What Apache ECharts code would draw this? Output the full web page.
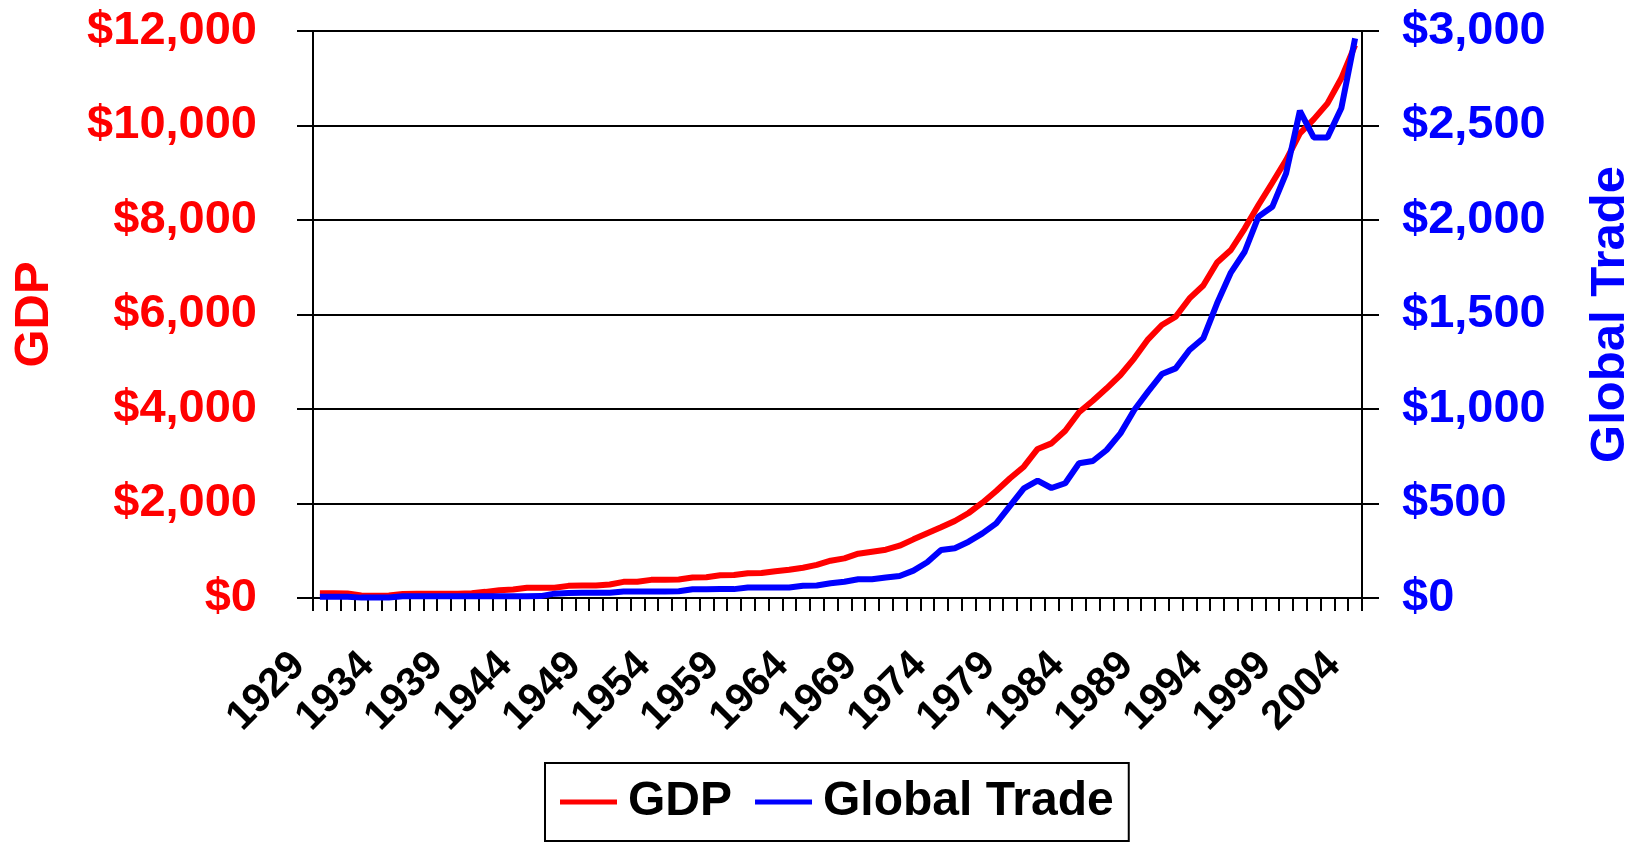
<!DOCTYPE html>
<html>
<head>
<meta charset="utf-8">
<title>GDP and Global Trade</title>
<script src="https://cdn.jsdelivr.net/npm/echarts@6/dist/echarts.min.js"></script>
<style>
  html, body { margin: 0; padding: 0; background: #ffffff; }
  #chart { width: 1642px; height: 843px; }
</style>
</head>
<body>
<div id="chart"></div>
<script>
// Years on the category axis (1929-2004)
const years = [];
for (let y = 1929; y <= 2004; y++) years.push(String(y));

// GDP, left axis ($)
const gdp = [
  102, 102, 95, 55, 50, 53, 85, 88, 88, 88,
  90, 100, 130, 166, 180, 215, 215, 218, 257, 262,
  265, 286, 342, 344, 384, 388, 390, 434, 440, 483,
  486, 525, 528, 568, 596, 640, 700, 790, 839, 938,
  980, 1022, 1107, 1241, 1369, 1496, 1630, 1799, 2017, 2264,
  2533, 2779, 3155, 3273, 3540, 3930, 4175, 4437, 4719, 5072,
  5474, 5777, 5953, 6340, 6615, 7100, 7365, 7820, 8317, 8789,
  9269, 9834, 10130, 10469, 10999, 11700
];

// Global trade, right axis ($)
const trade = [
  7, 7, 7, 2, 2, 3, 9, 9, 9, 9,
  9, 9, 9, 9, 9, 9, 10, 23, 26, 28,
  28, 28, 34, 34, 34, 35, 36, 46, 46, 47,
  47, 55, 55, 55, 56, 65, 66, 78, 86, 99,
  99, 108, 116, 145, 189, 254, 263, 298, 342, 395,
  487, 580, 621, 582, 607, 713, 725, 783, 871, 995,
  1092, 1185, 1215, 1312, 1374, 1559, 1722, 1832, 2018, 2070,
  2247, 2578, 2437, 2437, 2591, 2961
];

// Axis ranges and steps
const gdpAxis = { min: 0, max: 12000, step: 2000 };
const tradeAxis = { min: 0, max: 3000, step: 500 };

const FONT = '"Liberation Sans", Arial, Helvetica, sans-serif';
const RED = '#ff0000';
const BLUE = '#0000ff';
const money = v => '$' + Number(v).toLocaleString('en-US');

const chart = echarts.init(document.getElementById('chart'), null, { renderer: 'canvas' });

chart.setOption({
  animation: false,
  backgroundColor: '#ffffff',
  textStyle: { fontFamily: FONT },
  grid: {
    left: 313, right: 280, top: 31, bottom: 245,
    containLabel: false,
    outerBoundsMode: 'none'
  },
  legend: {
    data: ['GDP', 'Global Trade'],
    left: 545,
    top: 763,
    padding: [15, 15, 15, 15],
    itemGap: 23,
    itemWidth: 57,
    itemHeight: 5,
    icon: 'rect',
    borderColor: '#000000',
    borderWidth: 2,
    textStyle: { fontFamily: FONT, fontSize: 48, fontWeight: 'bold', color: '#000000', padding: [0, 0, 0, 6] }
  },
  xAxis: {
    type: 'category',
    data: years,
    boundaryGap: true,
    axisLine: { show: true, lineStyle: { color: '#000000', width: 2 } },
    axisTick: { show: true, interval: 0, length: 13, inside: false, lineStyle: { color: '#000000', width: 2 } },
    axisLabel: {
      interval: 4,
      rotate: 45,
      margin: 40,
      padding: [0, 30, 0, 0],
      fontFamily: FONT,
      fontSize: 41,
      fontWeight: 'bold',
      color: '#000000'
    },
    splitLine: { show: false }
  },
  yAxis: [
    {
      type: 'value',
      position: 'left',
      min: gdpAxis.min, max: gdpAxis.max, interval: gdpAxis.step,
      name: 'GDP',
      nameLocation: 'middle',
      nameRotate: 90,
      nameGap: 254,
      nameTextStyle: { fontFamily: FONT, fontSize: 49, fontWeight: 'bold', color: RED },
      axisLine: { show: true, lineStyle: { color: '#000000', width: 2 } },
      axisTick: { show: true, length: 16, lineStyle: { color: '#000000', width: 2 } },
      axisLabel: {
        margin: 56,
        fontFamily: FONT, fontSize: 47, fontWeight: 'bold', color: RED,
        formatter: money
      },
      splitLine: { show: true, lineStyle: { color: '#000000', width: 2 } }
    },
    {
      type: 'value',
      position: 'right',
      min: tradeAxis.min, max: tradeAxis.max, interval: tradeAxis.step,
      name: 'Global Trade',
      nameLocation: 'middle',
      nameRotate: 90,
      nameGap: 224,
      nameTextStyle: { fontFamily: FONT, fontSize: 49, fontWeight: 'bold', color: BLUE },
      axisLine: { show: true, lineStyle: { color: '#000000', width: 2 } },
      axisTick: { show: true, length: 17, lineStyle: { color: '#000000', width: 2 } },
      axisLabel: {
        margin: 40,
        fontFamily: FONT, fontSize: 47, fontWeight: 'bold', color: BLUE,
        formatter: money
      },
      splitLine: { show: false }
    }
  ],
  series: [
    {
      name: 'GDP',
      type: 'line',
      yAxisIndex: 0,
      data: gdp,
      symbol: 'none',
      showSymbol: false,
      itemStyle: { color: RED },
      lineStyle: { color: RED, width: 6 }
    },
    {
      name: 'Global Trade',
      type: 'line',
      yAxisIndex: 1,
      data: trade,
      symbol: 'none',
      showSymbol: false,
      itemStyle: { color: BLUE },
      lineStyle: { color: BLUE, width: 6 }
    }
  ]
});
</script>
</body>
</html>
